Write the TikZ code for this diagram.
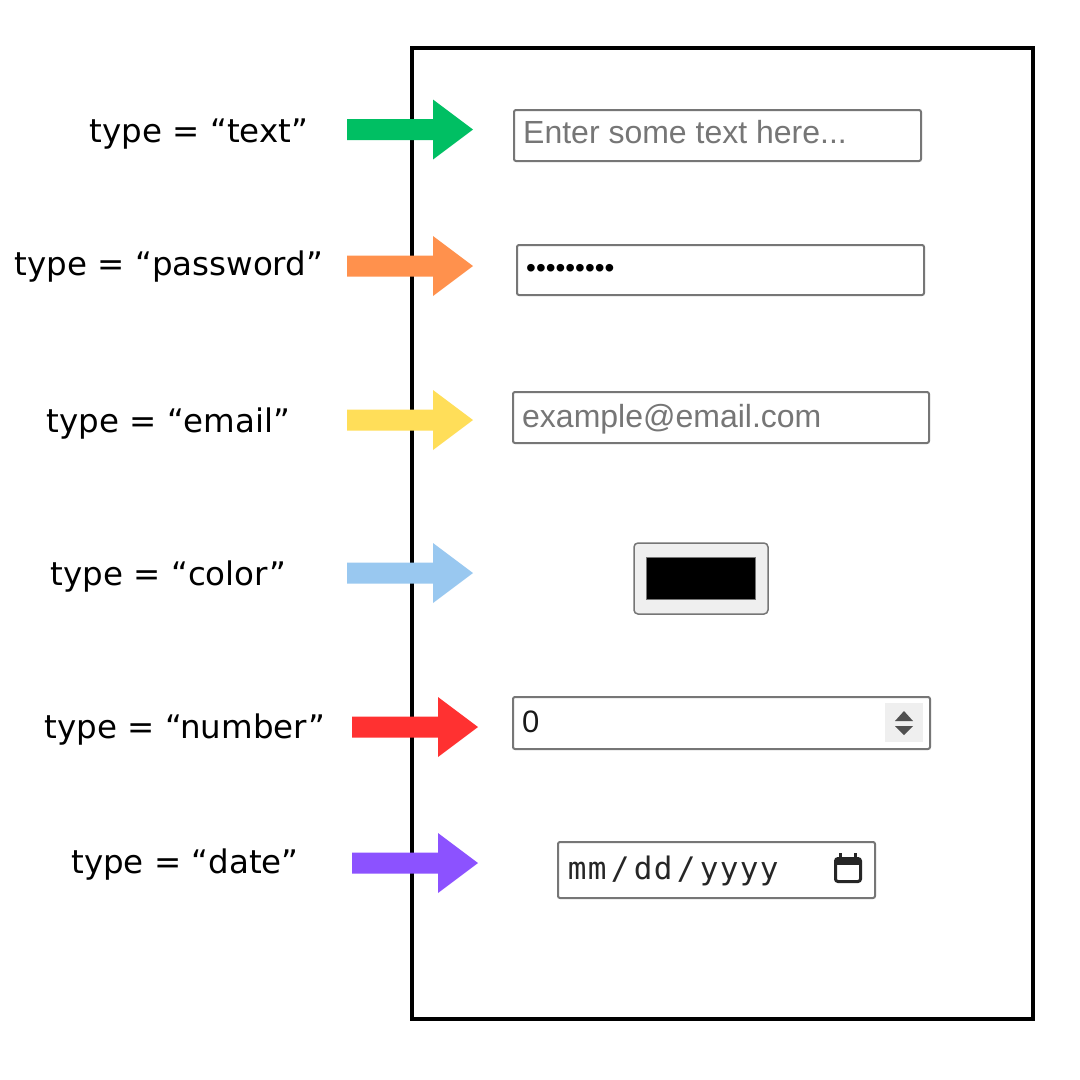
\documentclass[tikz,border=0pt]{standalone}
\usepackage{fontspec}
\newfontfamily\labelfont{DejaVu Sans}
\newfontfamily\uifont{Liberation Sans}
\newfontfamily\datefont{DejaVu Sans Mono}
\definecolor{arrgreen}{HTML}{00BF63}
\definecolor{arrorange}{HTML}{FF914D}
\definecolor{arryellow}{HTML}{FFDE59}
\definecolor{arrblue}{HTML}{99C8F0}
\definecolor{arrred}{HTML}{FF3131}
\definecolor{arrpurple}{HTML}{8C52FF}
\definecolor{fieldgray}{HTML}{767676}
\definecolor{phgray}{HTML}{767676}
\definecolor{btngray}{HTML}{EFEFEF}
\definecolor{spingray}{HTML}{505050}
\newcommand\dch[1]{\makebox[20pt]{#1}}
\newcommand\dsl{\makebox[26pt]{/}}
\tikzset{
  lbl/.style={font=\labelfont\fontsize{32.5}{38}\selectfont, anchor=base, inner sep=0pt},
  field/.style={draw=fieldgray, line width=2pt, rounded corners=2pt, fill=white, inner sep=0pt},
  uitext/.style={font=\uifont\fontsize{32}{38}\selectfont, anchor=base west, inner sep=0pt},
  blockarrow/.pic={\fill[#1] (0,-10.5) -- (86,-10.5) -- (86,-30) -- (126,0) -- (86,30) -- (86,10.5) -- (0,10.5) -- cycle;}
}
\begin{document}
\begin{tikzpicture}[x=1pt,y=-1pt]
\useasboundingbox (0,0) rectangle (1080,1080);
\fill[white] (0,0) rectangle (1080,1080);
% frame
\node[draw, line width=4pt, minimum width=621pt, minimum height=971pt, inner sep=0pt] (frame) at (722.5,533.5) {};
% labels
\node[lbl] (ltext) at (199,142) {type = “text”};
\node[lbl] (lpass) at (169,275) {type = “password”};
\node[lbl] (lemail) at (168.5,432) {type = “email”};
\node[lbl] (lcolor) at (168.5,585) {type = “color”};
\node[lbl] (lnum) at (185,738) {type = “number”};
\node[lbl] (ldate) at (185,873) {type = “date”};
% arrows
\pic at (347,129.5) {blockarrow=arrgreen};
\pic at (347,266) {blockarrow=arrorange};
\pic at (347,420) {blockarrow=arryellow};
\pic at (347,573) {blockarrow=arrblue};
\pic at (352,727) {blockarrow=arrred};
\pic at (352,863) {blockarrow=arrpurple};
% text field
\node[field, minimum width=407pt, minimum height=51pt] (tbox) at (717.5,135.5) {};
\node[uitext, text=phgray] (tph) at (523,143) {Enter some text here...};
% password field
\node[field, minimum width=407pt, minimum height=50pt] (pbox) at (720.5,270) {};
\node[uitext, font=\uifont\fontsize{28}{34}\selectfont, text=black] (pdots) at (526,277) {•••••••••};
% email field
\node[field, minimum width=416pt, minimum height=51pt] (ebox) at (721,417.5) {};
\node[uitext, text=phgray] (eph) at (522,427) {example@email.com};
% color field
\node[draw=fieldgray, line width=1.5pt, rounded corners=4pt, fill=btngray, minimum width=134pt, minimum height=71pt, inner sep=0pt] (cbox) at (701,578.5) {};
\node[draw=fieldgray, line width=1.5pt, fill=black, minimum width=109pt, minimum height=42pt, inner sep=0pt] (cswatch) at (cbox.center) {};
% number field
\node[field, minimum width=417pt, minimum height=52pt] (nbox) at (721.5,723) {};
\node[uitext, font=\uifont\fontsize{31}{36}\selectfont, text=black!90] (nval) at (522,732) {0};
\node[fill=btngray, minimum width=38pt, minimum height=39pt, inner sep=0pt] (nspin) at (904,722.5) {};
\fill[spingray] (895,721) -- (913,721) -- (904,711) -- cycle;
\fill[spingray] (895,726) -- (913,726) -- (904,735) -- cycle;
% date field
\node[field, minimum width=317pt, minimum height=56pt] (dbox) at (716.5,870) {};
\node[anchor=base west, inner sep=0pt, font=\datefont\fontsize{31}{36}\selectfont, text=black!85] (dval) at (567,879)
  {\dch{m}\dch{m}\dsl\dch{d}\dch{d}\dsl\dch{y}\dch{y}\dch{y}\dch{y}};
\draw[black!85, line width=3pt, rounded corners=2.5pt] (835.5,858.5) rectangle (860.5,881.5);
\fill[black!85] (835.5,857.5) rectangle (860.5,865);
\draw[black!85, line width=3pt] (840.5,853) -- (840.5,859) (855.5,853) -- (855.5,859);
\end{tikzpicture}
\end{document}
